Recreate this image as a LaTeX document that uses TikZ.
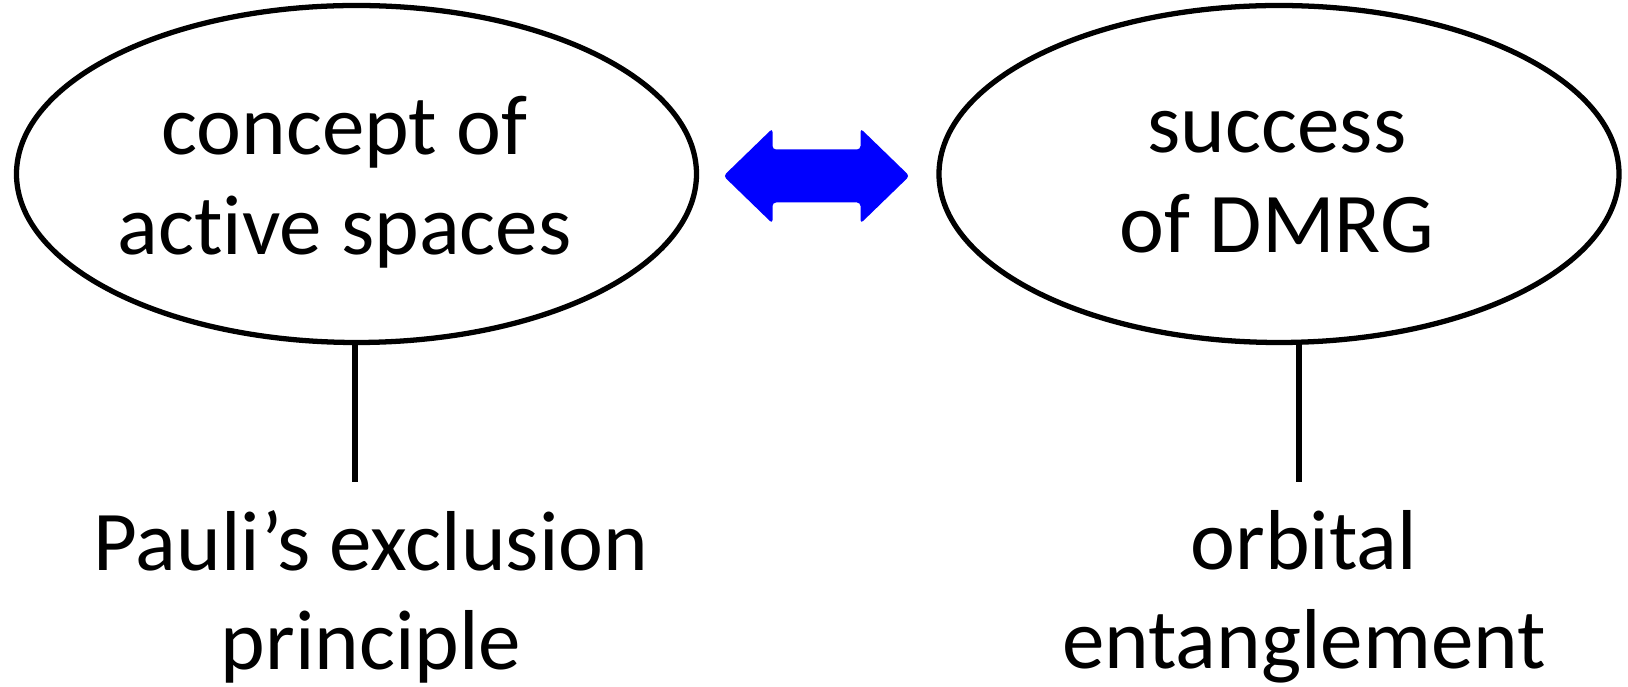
\documentclass[tikz,border=0pt]{standalone}
\usepackage{fontspec}
\setmainfont{Carlito}[Ligatures=NoCommon]
\usetikzlibrary{shapes.geometric}

\begin{document}
\begin{tikzpicture}[line width=1.5pt, align=center, font=\fontsize{24.2}{28.3}\selectfont]
  \useasboundingbox (0,0) rectangle (16.28,6.87);
  \node[
    draw,
    ellipse,
    minimum width=6.8cm,
    minimum height=3.37cm,
  ] (active) at (3.565,5.13) {};
  \node[
    draw,
    ellipse,
    minimum width=6.8cm,
    minimum height=3.37cm,
  ] (dmrg) at (12.79,5.13) {};
  \node (activetext) at ([shift={(-0.12,-0.08)}]active.center) {concept of\\active spaces};
  \node (dmrgtext) at ([shift={(-0.02,-0.08)}]dmrg.center) {success\\of DMRG};
  \node (pauli) at (3.71,0.90) {Pauli’s exclusion\\principle};
  \node (orbital) at (13.04,0.90) {orbital\\entanglement};
  \coordinate (pauliend) at (3.55,2.05);
  \coordinate (orbitalend) at (12.99,2.05);
  \draw (active.south -| pauliend) -- (pauliend);
  \draw (dmrg.south -| orbitalend) -- (orbitalend);
  % double arrow between the two ellipses
  \coordinate (link) at (8.165,5.11);
  \fill[blue, rounded corners=1pt, shift={(link)}]
    (-0.93,0) -- (-0.44,0.475) -- (-0.44,0.265) -- (0.44,0.265) -- (0.44,0.475)
    -- (0.93,0) -- (0.44,-0.475) -- (0.44,-0.265) -- (-0.44,-0.265) -- (-0.44,-0.475) -- cycle;
\end{tikzpicture}
\end{document}
